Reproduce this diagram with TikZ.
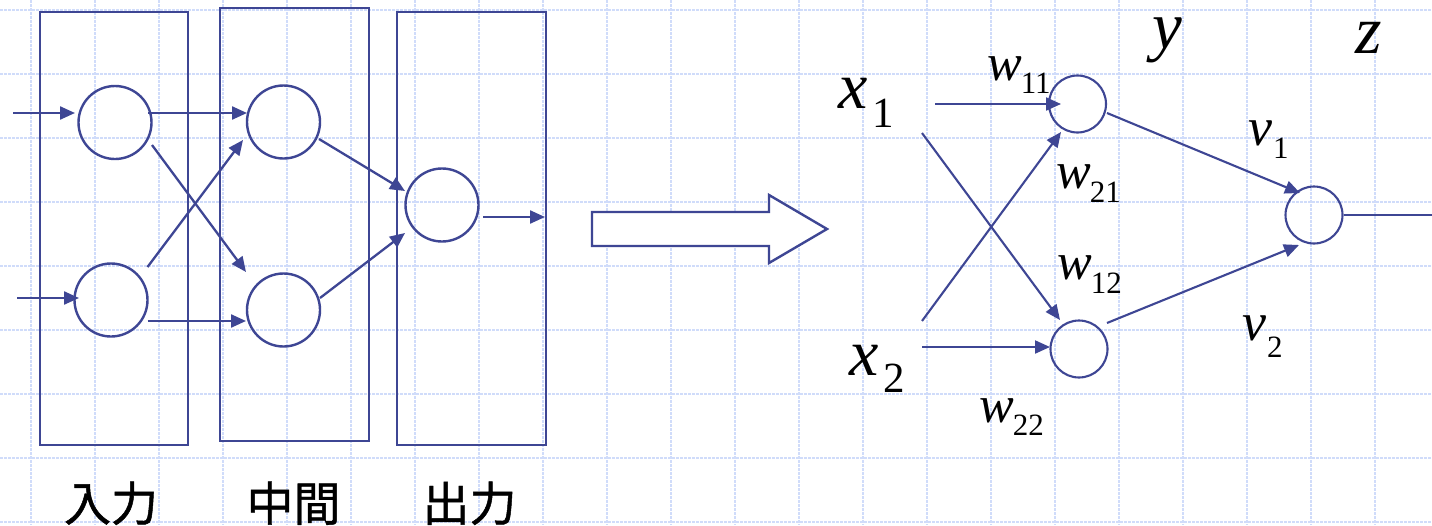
\documentclass[tikz,border=0pt]{standalone}
\usepackage{fontspec}
\setmainfont{Liberation Serif}
\newfontfamily\jpfont{Noto Sans CJK JP}[FakeBold=1]
\usetikzlibrary{arrows.meta}
\definecolor{ink}{RGB}{62,70,148}
\definecolor{gridc}{RGB}{208,220,250}
\newcommand{\mylab}[6]{{\fontsize{#1}{#1}\selectfont\itshape #2}\kern#6pt\raisebox{-#5pt}{\fontsize{#3}{#3}\selectfont #4}}
\tikzset{
  gridline/.style={gridc, line width=1.5pt, dash pattern=on 2.5pt off 1.5pt},
  layerbox/.style={draw=ink, line width=2.4pt},
  neuron/.style={circle, draw=ink, line width=2.4pt, minimum size=73pt, inner sep=0pt},
  rneuron/.style={circle, draw=ink, line width=2.1pt, minimum size=57pt, inner sep=0pt},
  conn/.style={ink, line width=2.3pt, -{Triangle[length=15pt,width=13pt]}},
  rconn/.style={ink, line width=2.1pt, -{Triangle[length=15pt,width=13pt]}},
  plainline/.style={ink, line width=2.1pt},
  lab/.style={inner sep=0pt, anchor=base west},
  jlab/.style={inner sep=0pt, anchor=base, font=\jpfont\fontsize{47}{47}\selectfont},
  bigarrow/.style={draw=ink, line width=2.4pt, fill=white}
}
\begin{document}
\begin{tikzpicture}[x=1pt,y=-1pt]
\useasboundingbox (0,0) rectangle (1432,525);
\fill[white] (0,0) rectangle (1432,525);
% graph paper
\foreach \gx in {31,95,...,1375} \draw[gridline] (\gx,0) -- (\gx,525);
\foreach \gy in {10,74,...,522} \draw[gridline] (0,\gy) -- (1432,\gy);

% layer boxes
\draw[layerbox] (40,12) rectangle (188,445);
\draw[layerbox] (220,8) rectangle (369,441);
\draw[layerbox] (397,12) rectangle (546,445);

% left neurons
\node[neuron] (A) at (115,122.5) {};
\node[neuron] (B) at (283.5,122) {};
\node[neuron] (C) at (111,300) {};
\node[neuron] (D) at (283.5,310) {};
\node[neuron] (E) at (442,205) {};

% connector end points (left)
\coordinate (in1) at (13,113);
\coordinate (in1t) at (75,113);
\coordinate (in2) at (17,298);
\coordinate (in2t) at (79,298);
\coordinate (ab0) at (148,113);
\coordinate (ab1) at (247,113);
\coordinate (ad0) at (152,145);
\coordinate (ad1) at (246,272);
\coordinate (cb0) at (147.5,267);
\coordinate (cb1) at (243,140);
\coordinate (cd0) at (147.5,321);
\coordinate (cd1) at (246,321);
\coordinate (be0) at (319,139);
\coordinate (be1) at (405,191);
\coordinate (de0) at (320,298);
\coordinate (de1) at (405,233);
\coordinate (eo0) at (483,217);
\coordinate (eo1) at (545,217);

\draw[conn] (in1) -- (in1t);
\draw[conn] (in2) -- (in2t);
\draw[conn] (ab0) -- (ab1);
\draw[conn] (ad0) -- (ad1);
\draw[conn] (cb0) -- (cb1);
\draw[conn] (cd0) -- (cd1);
\draw[conn] (be0) -- (be1);
\draw[conn] (de0) -- (de1);
\draw[conn] (eo0) -- (eo1);

% labels under boxes
\node[jlab] (l1) at (111,521) {入力};
\node[jlab] (l2) at (293.5,521) {中間};
\node[jlab] (l3) at (469.5,521) {出力};

% big hollow arrow
\draw[bigarrow] (592,212) -- (769,212) -- (769,195) -- (827,229) -- (769,263) -- (769,246) -- (592,246) -- cycle;

% right network
\node[rneuron] (Y1) at (1077.5,104) {};
\node[rneuron] (Y2) at (1079,349) {};
\node[rneuron] (Z) at (1314,215) {};

\coordinate (x1a) at (935,104);
\coordinate (x1at) at (1061,104);
\coordinate (x1b) at (922,133);
\coordinate (x1bt) at (1060,320);
\coordinate (x2a) at (922,321);
\coordinate (x2at) at (1061,132);
\coordinate (x2b) at (922,347);
\coordinate (x2bt) at (1050,347);
\coordinate (y1z) at (1107,113);
\coordinate (y1zt) at (1300,193);
\coordinate (y2z) at (1107,323);
\coordinate (y2zt) at (1299,245);
\coordinate (zout) at (1432,215);

\draw[rconn] (x1a) -- (x1at);
\draw[rconn] (x1b) -- (x1bt);
\draw[rconn] (x2a) -- (x2at);
\draw[rconn] (x2b) -- (x2bt);
\draw[rconn] (y1z) -- (y1zt);
\draw[rconn] (y2z) -- (y2zt);
\draw[plainline] (Z.east) -- (zout);

% math labels
\node[lab] (lx1) at (838,108) {\mylab{66}{x}{43}{1}{19}{5}};
\node[lab] (lx2) at (849,375) {\mylab{66}{x}{43}{2}{17}{5}};
\node[lab] (lw11) at (987,80) {\mylab{52}{w}{31}{11}{13}{-1}};
\node[lab] (lw21) at (1056,188) {\mylab{52}{w}{31}{21}{14}{-1}};
\node[lab] (lw12) at (1057,279) {\mylab{52}{w}{31}{12}{14}{-1}};
\node[lab] (lw22) at (979,422) {\mylab{52}{w}{31}{22}{13}{-1}};
\node[lab] (lv1) at (1248,145) {\mylab{54}{v}{31}{1}{13}{1}};
\node[lab] (lv2) at (1242,340) {\mylab{54}{v}{31}{2}{17}{1}};
\node[lab] (ly) at (1152,48) {\fontsize{67}{67}\selectfont\itshape y};
\node[lab] (lz) at (1355,53) {\fontsize{68}{68}\selectfont\itshape z};
\end{tikzpicture}
\end{document}
